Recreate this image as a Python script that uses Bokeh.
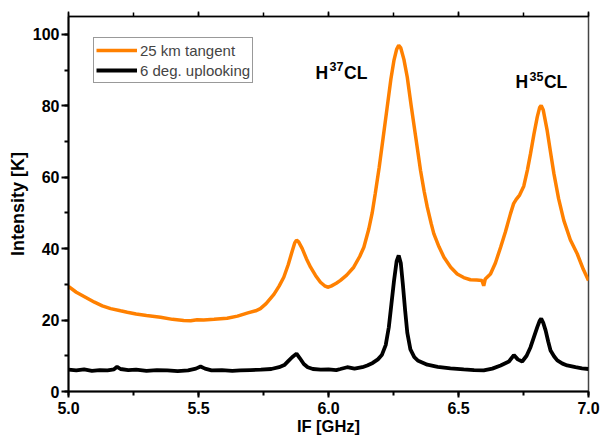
from bokeh.plotting import figure
from bokeh.models import (Range1d, SingleIntervalTicker, PrintfTickFormatter, LinearAxis,
                          Legend, LegendItem, Label, ColumnDataSource)
from bokeh.embed import file_html
from bokeh.resources import INLINE

# ---------------- data ----------------
tangent_freq = [5.000, 5.030, 5.065, 5.100, 5.130, 5.162, 5.200, 5.226, 5.260, 5.300,
                5.354, 5.400, 5.443, 5.470, 5.495, 5.520, 5.560, 5.610, 5.650, 5.690,
                5.720, 5.738, 5.760, 5.790, 5.810, 5.828, 5.845, 5.860, 5.870, 5.877,
                5.885, 5.899, 5.915, 5.931, 5.950, 5.969, 5.985, 5.997, 6.010, 6.030,
                6.046, 6.070, 6.097, 6.120, 6.136, 6.155, 6.168, 6.180, 6.195, 6.210,
                6.225, 6.240, 6.252, 6.262, 6.270, 6.278, 6.290, 6.303, 6.318, 6.335,
                6.354, 6.368, 6.380, 6.395, 6.405, 6.425, 6.444, 6.470, 6.495, 6.520,
                6.546, 6.570, 6.590, 6.597, 6.603, 6.623, 6.642, 6.662, 6.680, 6.700,
                6.712, 6.722, 6.735, 6.751, 6.765, 6.777, 6.790, 6.803, 6.812, 6.818,
                6.826, 6.841, 6.855, 6.867, 6.885, 6.905, 6.930, 6.957, 6.980, 7.000]
tangent_K = [29.4, 27.8, 26.4, 25.0, 24.0, 23.2, 22.6, 22.2, 21.7, 21.3,
             20.8, 20.2, 19.9, 19.8, 20.1, 20.0, 20.2, 20.5, 21.1, 22.0,
             22.6, 23.2, 24.6, 27.2, 29.5, 32.0, 35.5, 39.2, 41.6, 42.4,
             41.9, 40.0, 37.2, 34.8, 32.5, 30.6, 29.6, 29.2, 29.5, 30.3,
             31.1, 32.6, 34.8, 37.8, 40.4, 45.5, 50.0, 55.5, 62.8, 71.0,
             79.2, 87.5, 92.8, 95.8, 96.9, 96.2, 93.0, 88.0, 80.0, 71.5,
             61.9, 56.0, 51.6, 47.0, 44.2, 40.5, 37.6, 34.8, 32.9, 31.9,
             31.3, 31.2, 31.1, 29.6, 31.5, 32.9, 36.0, 40.4, 44.6, 49.8,
             52.6, 53.8, 55.0, 57.5, 62.0, 66.6, 72.0, 76.9, 79.5, 80.1,
             78.8, 73.1, 66.5, 61.0, 54.0, 47.9, 42.5, 38.5, 34.2, 31.1]

uplook_freq = [5.000, 5.030, 5.060, 5.090, 5.120, 5.150, 5.175, 5.187, 5.200, 5.230,
               5.260, 5.300, 5.340, 5.380, 5.420, 5.460, 5.490, 5.508, 5.525, 5.550,
               5.590, 5.630, 5.660, 5.700, 5.740, 5.780, 5.810, 5.830, 5.845, 5.860,
               5.877, 5.890, 5.905, 5.920, 5.940, 5.970, 6.000, 6.030, 6.046, 6.072,
               6.100, 6.130, 6.149, 6.170, 6.190, 6.205, 6.220, 6.232, 6.242, 6.252,
               6.262, 6.270, 6.278, 6.286, 6.295, 6.303, 6.315, 6.330, 6.345, 6.380,
               6.420, 6.469, 6.520, 6.560, 6.597, 6.630, 6.662, 6.694, 6.713, 6.728,
               6.745, 6.762, 6.777, 6.790, 6.803, 6.812, 6.818, 6.826, 6.835, 6.845,
               6.854, 6.868, 6.880, 6.900, 6.918, 6.950, 6.975, 7.000]
uplook_K = [6.1, 5.9, 6.2, 5.8, 6.0, 5.9, 6.2, 6.9, 6.3, 6.0,
            6.1, 5.8, 6.0, 5.9, 5.7, 5.9, 6.4, 7.0, 6.4, 5.9,
            6.0, 5.8, 5.9, 6.0, 6.1, 6.3, 6.8, 7.4, 8.5, 9.6,
            10.6, 9.3, 7.7, 6.8, 6.3, 6.1, 6.2, 6.0, 6.3, 6.8,
            6.4, 6.8, 7.3, 8.0, 9.0, 10.2, 13.0, 18.0, 24.5, 31.0,
            36.5, 38.1, 36.0, 30.0, 22.5, 16.5, 11.8, 9.6, 8.6, 7.5,
            6.9, 6.5, 6.2, 6.0, 5.9, 6.4, 7.3, 8.4, 10.2, 9.0,
            8.4, 10.0, 12.4, 15.2, 18.0, 19.8, 20.4, 19.2, 17.1, 14.0,
            11.5, 9.8, 8.7, 7.8, 7.3, 6.8, 6.5, 6.3]

series_names = ["25 km tangent", "6 deg. uplooking"]
x_label = "IF [GHz]"
y_label = "Intensity [K]"

FONT = "Liberation Sans"

p = figure(width=601, height=445, output_backend="svg", toolbar_location=None,
           x_range=Range1d(5.0, 7.0), y_range=Range1d(0, 105),
           min_border_left=68, min_border_right=13, min_border_top=16, min_border_bottom=54)
p.xgrid.visible = False
p.ygrid.visible = False
p.outline_line_color = "#444444"
p.outline_line_width = 1.5

src_t = ColumnDataSource(dict(x=tangent_freq, y=tangent_K))
src_u = ColumnDataSource(dict(x=uplook_freq, y=uplook_K))
r_t = p.line("x", "y", source=src_t, line_color="#FF8000", line_width=3.5)
r_u = p.line("x", "y", source=src_u, line_color="#000000", line_width=3.8)

xt = SingleIntervalTicker(interval=0.5, num_minor_ticks=2)
yt = SingleIntervalTicker(interval=20, num_minor_ticks=2)

xa = p.xaxis[0]
xa.ticker = xt
xa.formatter = PrintfTickFormatter(format="%.1f")
ya = p.yaxis[0]
ya.ticker = yt

for ax in (xa, ya):
    ax.axis_line_width = 2
    ax.major_tick_line_width = 2
    ax.minor_tick_line_width = 2
    ax.major_tick_out = 6
    ax.major_tick_in = 0
    ax.minor_tick_out = 4
    ax.minor_tick_in = 0
    ax.major_label_text_font = FONT
    ax.major_label_text_font_style = "bold"
    ax.major_label_text_font_size = "16px"
    ax.major_label_text_color = "black"
    ax.axis_label_text_font = FONT
    ax.axis_label_text_font_style = "bold"
    ax.axis_label_text_color = "black"

xa.axis_label = x_label
xa.axis_label_text_font_size = "16.5px"
xa.major_label_standoff = 4
xa.axis_label_standoff = 0
ya.axis_label = y_label
ya.axis_label_text_font_size = "18px"
ya.major_tick_out = 7
ya.major_label_standoff = 2
ya.axis_label_standoff = 2

top = LinearAxis(ticker=SingleIntervalTicker(interval=0.5, num_minor_ticks=2))
top.axis_line_width = 1.5
top.major_tick_line_width = 1.5
top.minor_tick_line_width = 1.5
top.major_tick_out = 5
top.major_tick_in = 0
top.minor_tick_out = 4
top.minor_tick_in = 0
top.major_label_text_font_size = "1px"
top.major_label_text_color = None
top.major_label_standoff = 0
p.add_layout(top, "above")

legend = Legend(items=[LegendItem(label=series_names[0], renderers=[r_t]),
                       LegendItem(label=series_names[1], renderers=[r_u])],
                location=(25, 308))
legend.label_text_font = FONT
legend.label_text_font_size = "15px"
legend.label_standoff = 3
legend.glyph_width = 41
legend.glyph_height = 20
legend.label_height = 20
legend.padding = 2
legend.spacing = 0
legend.margin = 0
legend.border_line_color = "#333333"
legend.border_line_width = 1.5
legend.background_fill_alpha = 1
p.add_layout(legend)

def chem_label(x, y, mass):
    kw = dict(text_font=FONT, text_font_style="bold", text_color="black",
              text_baseline="alphabetic", text_align="left")
    p.add_layout(Label(x=x, y=y, text="H", text_font_size="17.5px", **kw))
    p.add_layout(Label(x=x, y=y, text=mass, text_font_size="12.5px", x_offset=14, y_offset=6, **kw))
    p.add_layout(Label(x=x, y=y, text="CL", text_font_size="17.5px", x_offset=28.5, **kw))

chem_label(5.95, 89.3, "37")
chem_label(6.719, 86.6, "35")

open("out.html", "w").write(file_html(p, INLINE))
